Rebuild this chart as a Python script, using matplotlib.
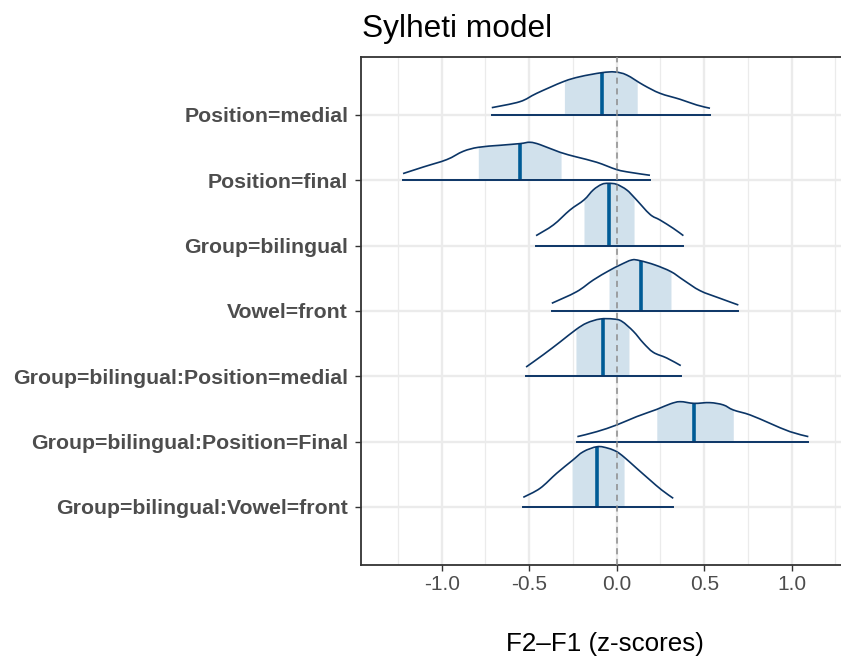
import matplotlib
matplotlib.use("Agg")
import matplotlib.pyplot as plt
from matplotlib.path import Path
from matplotlib.patches import PathPatch
import numpy as np

plt.rcParams["font.family"] = ["Liberation Sans", "DejaVu Sans"]

# parameter names, top to bottom
params = [
    "Position=medial",
    "Position=final",
    "Group=bilingual",
    "Vowel=front",
    "Group=bilingual:Position=medial",
    "Group=bilingual:Position=Final",
    "Group=bilingual:Vowel=front",
]

# density curves (x in z-scores, height in row units)
dens_x = [
    [-0.714, -0.553, -0.457, -0.305, -0.210, -0.086, -0.010, 0.057, 0.152, 0.247, 0.362, 0.457, 0.533],
    [-1.221, -1.105, -0.971, -0.877, -0.791, -0.667, -0.552, -0.495, -0.438, -0.324, -0.229, -0.114, 0.0, 0.076, 0.190],
    [-0.461, -0.362, -0.267, -0.187, -0.134, -0.086, -0.048, 0.0, 0.057, 0.105, 0.190, 0.247, 0.323, 0.381],
    [-0.371, -0.229, -0.134, -0.044, 0.019, 0.086, 0.133, 0.219, 0.310, 0.381, 0.476, 0.590, 0.695],
    [-0.518, -0.419, -0.324, -0.233, -0.171, -0.095, -0.019, 0.029, 0.095, 0.152, 0.209, 0.286, 0.366],
    [-0.225, -0.114, 0.0, 0.114, 0.229, 0.305, 0.362, 0.442, 0.533, 0.609, 0.666, 0.762, 0.876, 0.990, 1.095],
    [-0.534, -0.438, -0.343, -0.255, -0.191, -0.111, -0.048, 0.0, 0.043, 0.114, 0.190, 0.257, 0.323],
]
dens_y = [
    [0.112, 0.204, 0.332, 0.510, 0.586, 0.647, 0.658, 0.612, 0.459, 0.332, 0.240, 0.153, 0.103],
    [0.103, 0.204, 0.317, 0.444, 0.505, 0.536, 0.562, 0.582, 0.546, 0.429, 0.357, 0.276, 0.164, 0.122, 0.077],
    [0.153, 0.317, 0.546, 0.700, 0.853, 0.938, 0.954, 0.938, 0.853, 0.724, 0.479, 0.393, 0.265, 0.153],
    [0.118, 0.295, 0.474, 0.617, 0.704, 0.781, 0.770, 0.704, 0.602, 0.474, 0.311, 0.194, 0.092],
    [0.142, 0.332, 0.525, 0.715, 0.816, 0.877, 0.877, 0.842, 0.689, 0.510, 0.367, 0.280, 0.164],
    [0.077, 0.153, 0.256, 0.383, 0.494, 0.577, 0.612, 0.586, 0.597, 0.562, 0.485, 0.409, 0.280, 0.153, 0.077],
    [0.148, 0.286, 0.516, 0.709, 0.846, 0.923, 0.898, 0.846, 0.761, 0.592, 0.413, 0.260, 0.133],
]

# inner interval and median
inner_lo = [-0.299, -0.791, -0.187, -0.044, -0.233, 0.229, -0.255]
inner_hi = [0.117, -0.318, 0.099, 0.310, 0.070, 0.666, 0.042]
medians = [-0.086, -0.552, -0.042, 0.137, -0.077, 0.443, -0.111]

x_ticks = [-1.0, -0.5, 0.0, 0.5, 1.0]

dark = "#0b3566"
mid = "#005b96"
light = "#d1e1ec"
text_grey = "#4d4d4d"


def smooth_path(xs, ys):
    # draw the read points as a smooth Bezier path (Catmull-Rom handles)
    pts = np.column_stack([xs, ys])
    verts = [pts[0]]
    codes = [Path.MOVETO]
    for k in range(len(pts) - 1):
        p0 = pts[max(k - 1, 0)]
        p1 = pts[k]
        p2 = pts[k + 1]
        p3 = pts[min(k + 2, len(pts) - 1)]
        verts += [p1 + (p2 - p0) / 6, p2 - (p3 - p1) / 6, p2]
        codes += [Path.CURVE4] * 3
    return Path(verts, codes)


fig = plt.figure(figsize=(8.41, 6.58), dpi=100)
ax = fig.add_axes([360.7 / 841, 93 / 658, (850 - 360.7) / 841, (565 - 56.7) / 658])

n = len(params)
for i, name in enumerate(params):
    base = n - 1 - i
    xs = np.array(dens_x[i])
    hs = np.array(dens_y[i])

    # shaded interval
    lo, hi = inner_lo[i], inner_hi[i]
    keep = (xs > lo) & (xs < hi)
    fx = np.concatenate([[lo], xs[keep], [hi]])
    fh = np.concatenate([[np.interp(lo, xs, hs)], hs[keep], [np.interp(hi, xs, hs)]])
    ax.fill_between(fx, base, base + fh, color=light, lw=0, zorder=2)

    # median
    m = medians[i]
    ax.plot([m, m], [base, base + np.interp(m, xs, hs)], color=mid, lw=2.6,
            solid_capstyle="butt", zorder=3)

    # outline and baseline
    ax.add_patch(PathPatch(smooth_path(xs, base + hs), fc="none", ec=dark,
                           lw=1.2, zorder=4))
    ax.plot([xs[0], xs[-1]], [base, base], color=dark, lw=1.4, zorder=4)

ax.axvline(0, color="#8c8c8c", lw=1.1, ls=(0, (4, 3)), zorder=5)

ax.set_xlim(-1.463, 1.333)
ax.set_ylim(-0.888, n - 1 + 0.892)

ax.set_xticks(x_ticks)
ax.set_xticklabels([f"{t:.1f}" for t in x_ticks])
ax.set_xticks([-1.25, -0.75, -0.25, 0.25, 0.75, 1.25], minor=True)
ax.set_yticks(range(n))
ax.set_yticklabels(params[::-1], fontweight="bold")

ax.grid(which="major", color="#ebebeb", lw=1.7, zorder=0)
ax.grid(which="minor", axis="x", color="#ebebeb", lw=0.9, zorder=0)
ax.set_axisbelow(True)

ax.tick_params(axis="both", which="major", length=4, width=1.0, color="#333333",
               labelcolor=text_grey, labelsize=15)
ax.tick_params(axis="y", pad=5, labelsize=15.3)
ax.tick_params(axis="x", pad=3)
ax.tick_params(which="minor", length=0)

for side in ["left", "top", "bottom"]:
    ax.spines[side].set_color("#333333")
    ax.spines[side].set_linewidth(1.3)
ax.spines["right"].set_visible(False)

fig.text(362 / 841, 1 - 37 / 658, "Sylheti model", fontsize=22.8, color="black",
         ha="left", va="baseline")
fig.text(605 / 841, 1 - 651.5 / 658, "F2\u2013F1 (z-scores)", fontsize=18.7,
         color="black", ha="center", va="baseline")

fig.savefig("out.png", dpi=100)
